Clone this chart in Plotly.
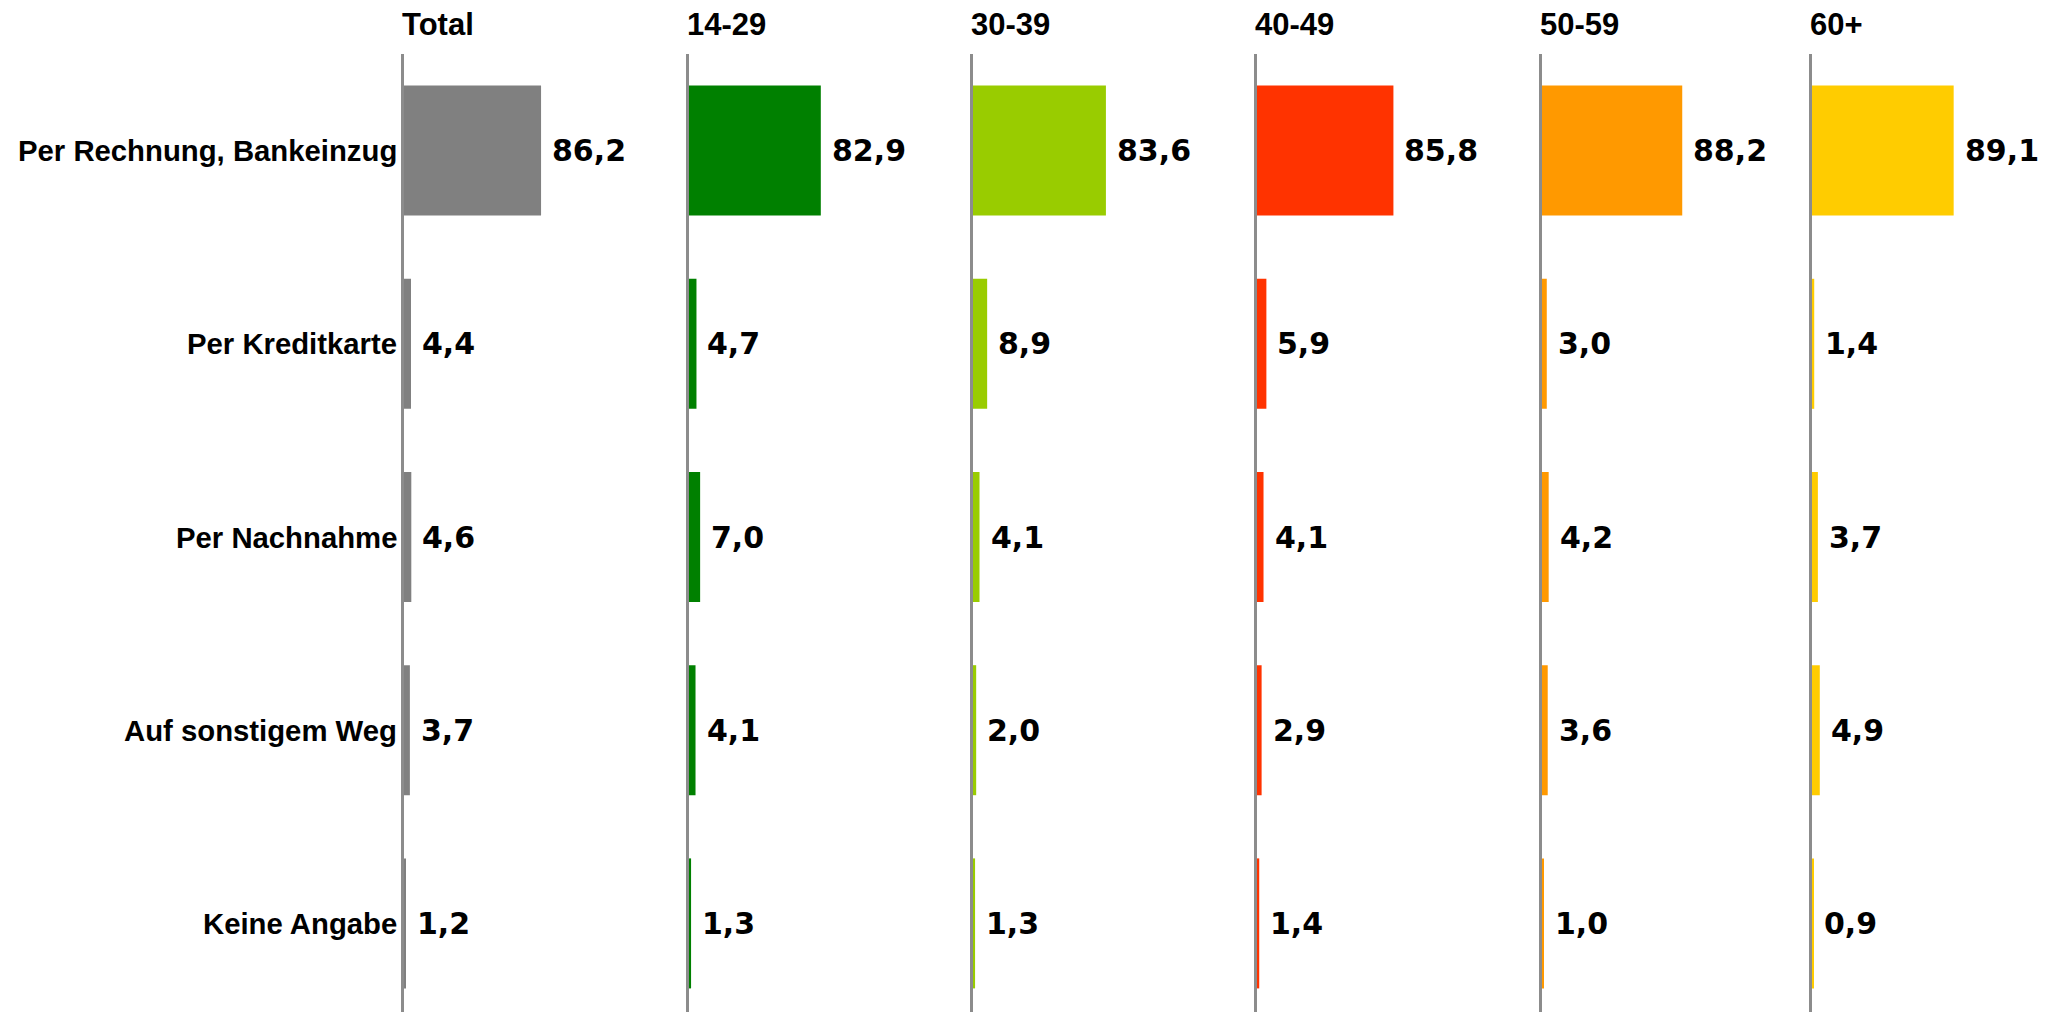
import plotly.graph_objects as go

categories = ["Per Rechnung, Bankeinzug", "Per Kreditkarte", "Per Nachnahme",
              "Auf sonstigem Weg", "Keine Angabe"]
groups = ["Total", "14-29", "30-39", "40-49", "50-59", "60+"]
val_total = [86.2, 4.4, 4.6, 3.7, 1.2]
val_14_29 = [82.9, 4.7, 7.0, 4.1, 1.3]
val_30_39 = [83.6, 8.9, 4.1, 2.0, 1.3]
val_40_49 = [85.8, 5.9, 4.1, 2.9, 1.4]
val_50_59 = [88.2, 3.0, 4.2, 3.6, 1.0]
val_60plus = [89.1, 1.4, 3.7, 4.9, 0.9]
series = [val_total, val_14_29, val_30_39, val_40_49, val_50_59, val_60plus]
colors = ["#808080", "#008000", "#99CC00", "#FF3300", "#FF9900", "#FFCC00"]

# page body has an 8px margin; positions below are in figure coordinates
W, H = 2050, 1012
top_px = 46
panel_left_px = [396, 681, 965, 1249, 1534, 1804]
panel_w_px = 246
px_per_unit = 1.59
xmax = panel_w_px / px_per_unit

fig = go.Figure()
layout = {}
annotations = []
for i, (g, vals, col) in enumerate(zip(groups, series, colors)):
    k = "" if i == 0 else str(i + 1)
    fig.add_trace(go.Bar(
        x=vals, y=categories, orientation="h",
        marker=dict(color=col, line=dict(width=0)),
        xaxis="x" + k, yaxis="y" + k, showlegend=False, hoverinfo="x+y"))
    d0 = panel_left_px[i] / W
    d1 = (panel_left_px[i] + panel_w_px) / W
    layout["xaxis" + k] = dict(domain=[d0, d1], range=[0, xmax], visible=False,
                               anchor="y" + k, fixedrange=True)
    layout["yaxis" + k] = dict(domain=[0, 1], anchor="x" + k,
                               categoryorder="array", categoryarray=categories[::-1],
                               showline=True, linecolor="#8c8c8c", linewidth=3,
                               showticklabels=False, ticks="", showgrid=False,
                               zeroline=False, layer="above traces")
    if i > 0:
        layout["yaxis" + k]["matches"] = "y"
    # header
    annotations.append(dict(
        text=g, xref="paper", yref="paper",
        x=panel_left_px[i] / W, y=1 + (top_px - 16) / (H - top_px),
        xanchor="left", yanchor="middle", xshift=-4, showarrow=False,
        font=dict(family="Liberation Sans, Arial", size=31, color="#000000", weight="bold")))
    # value labels
    for c, v in zip(categories, vals):
        annotations.append(dict(
            text=f"{v:.1f}".replace(".", ","), x=v, y=c,
            xref="x" + k, yref="y" + k, xanchor="left", yanchor="middle",
            xshift=9, showarrow=False,
            font=dict(family="DejaVu Sans", size=30, color="#000000", weight="bold")))

# category labels
for c in categories:
    annotations.append(dict(
        text=c, x=panel_left_px[0] / W, y=c, xref="paper", yref="y",
        xanchor="right", yanchor="middle", xshift=-5, showarrow=False,
        font=dict(family="Liberation Sans, Arial", size=29.3, color="#000000", weight="bold")))

fig.update_layout(
    width=W, height=H,
    margin=dict(l=0, r=0, t=top_px, b=0),
    paper_bgcolor="white", plot_bgcolor="white",
    bargap=0.327,
    annotations=annotations,
    **layout)

fig.write_html("out.html")
